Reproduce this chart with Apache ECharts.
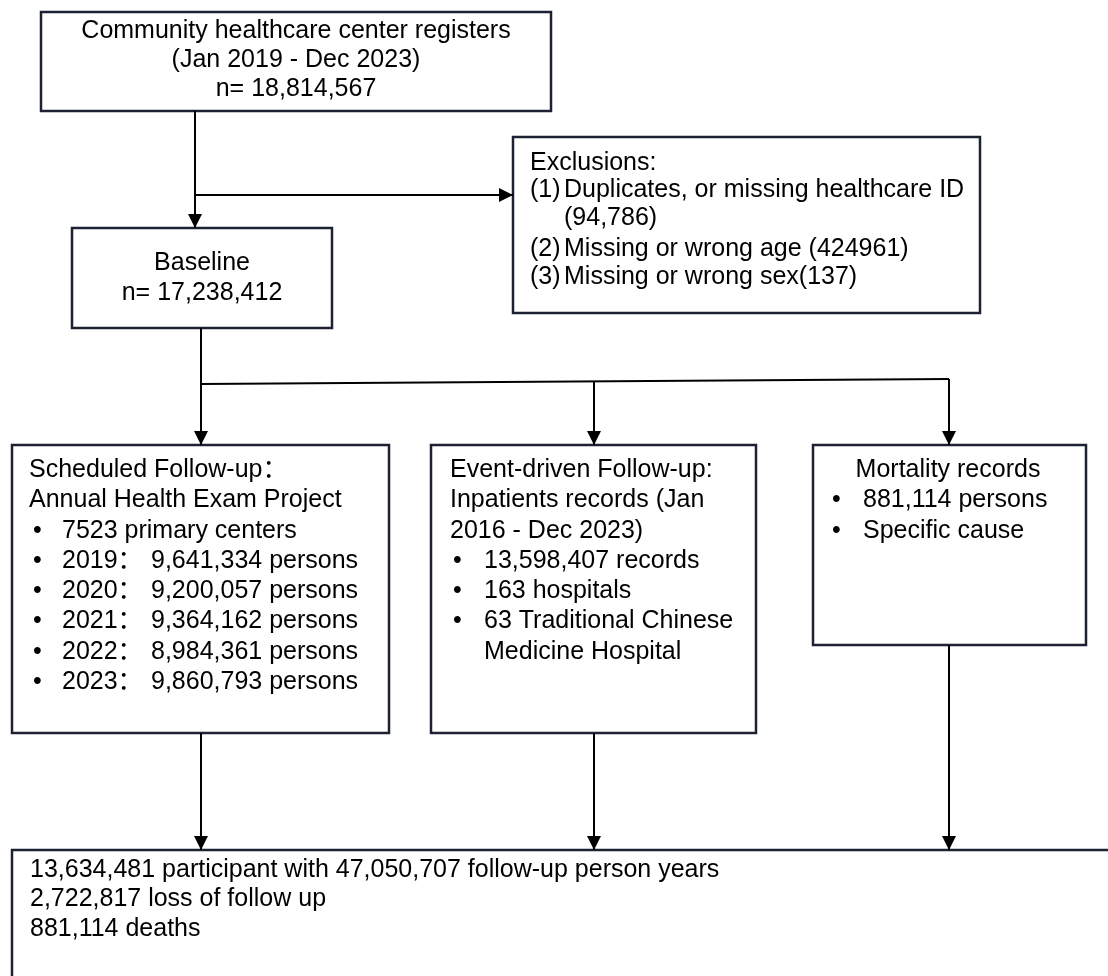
<!DOCTYPE html>
<html lang="en">
<head>
    <meta charset="UTF-8">
    <title>Flow chart</title>
    <style>
        html, body { margin: 0; padding: 0; background: #fff; }
        #main { width: 1108px; height: 976px; }
    </style>
    <script type="text/javascript" src="https://cdn.jsdelivr.net/npm/echarts@6/dist/echarts.min.js"></script>
</head>
<body>
<div id="main"></div>
<script>
    // box texts
    var topLines = ['Community healthcare center registers', '(Jan 2019 - Dec 2023)', 'n= 18,814,567'];
    var baselineLines = ['Baseline', 'n= 17,238,412'];
    var exclusionTitle = 'Exclusions:';
    var exclusionNums = ['(1)', '', '(2)', '(3)'];
    var exclusionText = ['Duplicates, or missing healthcare ID', '(94,786)', 'Missing or wrong age (424961)', 'Missing or wrong sex(137)'];
    var schedHead = ['Scheduled Follow-up：', 'Annual Health Exam Project'];
    var schedCenters = '7523 primary centers';
    var years = ['2019', '2020', '2021', '2022', '2023'];
    var persons = ['9,641,334', '9,200,057', '9,364,162', '8,984,361', '9,860,793'];
    var eventHead = ['Event-driven Follow-up:', 'Inpatients records (Jan', '2016 - Dec 2023)'];
    var eventBullets = ['13,598,407 records', '163 hospitals', '63 Traditional Chinese'];
    var eventCont = 'Medicine Hospital';
    var mortHead = 'Mortality records';
    var mortBullets = ['881,114 persons', 'Specific cause'];
    var outcomeLines = ['13,634,481 participant with 47,050,707 follow-up person years', '2,722,817 loss of follow up', '881,114 deaths'];

    var FONT = '25px "Liberation Sans", "Noto Sans CJK SC", Arial, sans-serif';

    // layout (page pixels)
    var boxes = [
        [41, 12, 551, 111],
        [72, 228, 332, 328],
        [513, 137, 980, 313],
        [12, 445, 389, 733],
        [431, 445, 756, 733],
        [813, 445, 1086, 645],
        [12, 850, 1130, 1000]
    ];
    var links = [
        {pts: [[195, 111], [195, 228]], arrow: true},
        {pts: [[195, 195], [513, 195]], arrow: true},
        {pts: [[201, 328], [201, 384], [949, 379]], arrow: false},
        {pts: [[201, 384], [201, 445]], arrow: true},
        {pts: [[594, 381], [594, 445]], arrow: true},
        {pts: [[949, 379], [949, 445]], arrow: true},
        {pts: [[201, 733], [201, 850]], arrow: true},
        {pts: [[594, 733], [594, 850]], arrow: true},
        {pts: [[949, 645], [949, 850]], arrow: true}
    ];

    var labels = [];
    function add(x, y, text, align) { labels.push({x: x, y: y, text: text, align: align || 'left'}); }

    [31, 60, 89].forEach(function (y, i) { add(296, y, topLines[i], 'center'); });
    [263, 293].forEach(function (y, i) { add(202, y, baselineLines[i], 'center'); });
    add(530, 163, exclusionTitle);
    [190, 218, 249, 277].forEach(function (y, i) {
        if (exclusionNums[i]) add(530, y, exclusionNums[i]);
        add(564, y, exclusionText[i]);
    });
    add(29, 470, schedHead[0]);
    add(29, 500, schedHead[1]);
    add(33, 531, '•');
    add(62, 531, schedCenters);
    years.forEach(function (yr, i) {
        var y = 561 + i * 30.3;
        add(33, y, '•');
        add(62, y, yr + '：');
        add(151, y, persons[i] + ' persons');
    });
    [470, 500, 531].forEach(function (y, i) { add(450, y, eventHead[i]); });
    eventBullets.forEach(function (t, i) {
        var y = 561 + i * 30.3;
        add(453, y, '•');
        add(484, y, t);
    });
    add(484, 652, eventCont);
    add(948, 470, mortHead, 'center');
    mortBullets.forEach(function (t, i) {
        var y = 500 + i * 31;
        add(832, y, '•');
        add(863, y, t);
    });
    outcomeLines.forEach(function (t, i) { add(30, 870 + i * 29.5, t); });

    var myChart = echarts.init(document.getElementById('main'));
    var option = {
        animation: false,
        grid: {left: 0, right: 0, top: 0, bottom: 0},
        xAxis: {type: 'value', min: 0, max: 1108, show: false},
        yAxis: {type: 'value', min: 0, max: 976, inverse: true, show: false},
        series: [{
            type: 'custom',
            name: 'boxes',
            clip: true,
            data: boxes,
            renderItem: function (params, api) {
                var p1 = api.coord([api.value(0), api.value(1)]);
                var p2 = api.coord([api.value(2), api.value(3)]);
                return {
                    type: 'rect',
                    shape: {x: p1[0], y: p1[1], width: p2[0] - p1[0], height: p2[1] - p1[1]},
                    style: {fill: '#fff', stroke: '#1c2232', lineWidth: 2.5}
                };
            }
        }, {
            type: 'custom',
            name: 'links',
            data: links.map(function (l, i) { return [l.pts[0][0], l.pts[0][1], i]; }),
            renderItem: function (params, api) {
                var l = links[params.dataIndex];
                var pts = l.pts.map(function (p) { return api.coord(p); });
                var children = [{
                    type: 'polyline',
                    shape: {points: pts},
                    style: {stroke: '#000', lineWidth: 2, fill: null}
                }];
                if (l.arrow) {
                    var a = pts[pts.length - 2], b = pts[pts.length - 1];
                    var ang = Math.atan2(b[1] - a[1], b[0] - a[0]);
                    var len = 14, half = 7;
                    var bx = b[0] - len * Math.cos(ang), by = b[1] - len * Math.sin(ang);
                    children.push({
                        type: 'polygon',
                        shape: {points: [
                            [b[0], b[1]],
                            [bx + half * Math.sin(ang), by - half * Math.cos(ang)],
                            [bx - half * Math.sin(ang), by + half * Math.cos(ang)]
                        ]},
                        style: {fill: '#000'}
                    });
                }
                return {type: 'group', children: children};
            }
        }, {
            type: 'custom',
            name: 'labels',
            data: labels.map(function (l) { return [l.x, l.y]; }),
            renderItem: function (params, api) {
                var l = labels[params.dataIndex];
                var p = api.coord([api.value(0), api.value(1)]);
                return {
                    type: 'text',
                    x: p[0],
                    y: p[1],
                    style: {text: l.text, font: FONT, fill: '#000', align: l.align, verticalAlign: 'middle'}
                };
            }
        }]
    };
    myChart.setOption(option);
</script>
</body>
</html>
